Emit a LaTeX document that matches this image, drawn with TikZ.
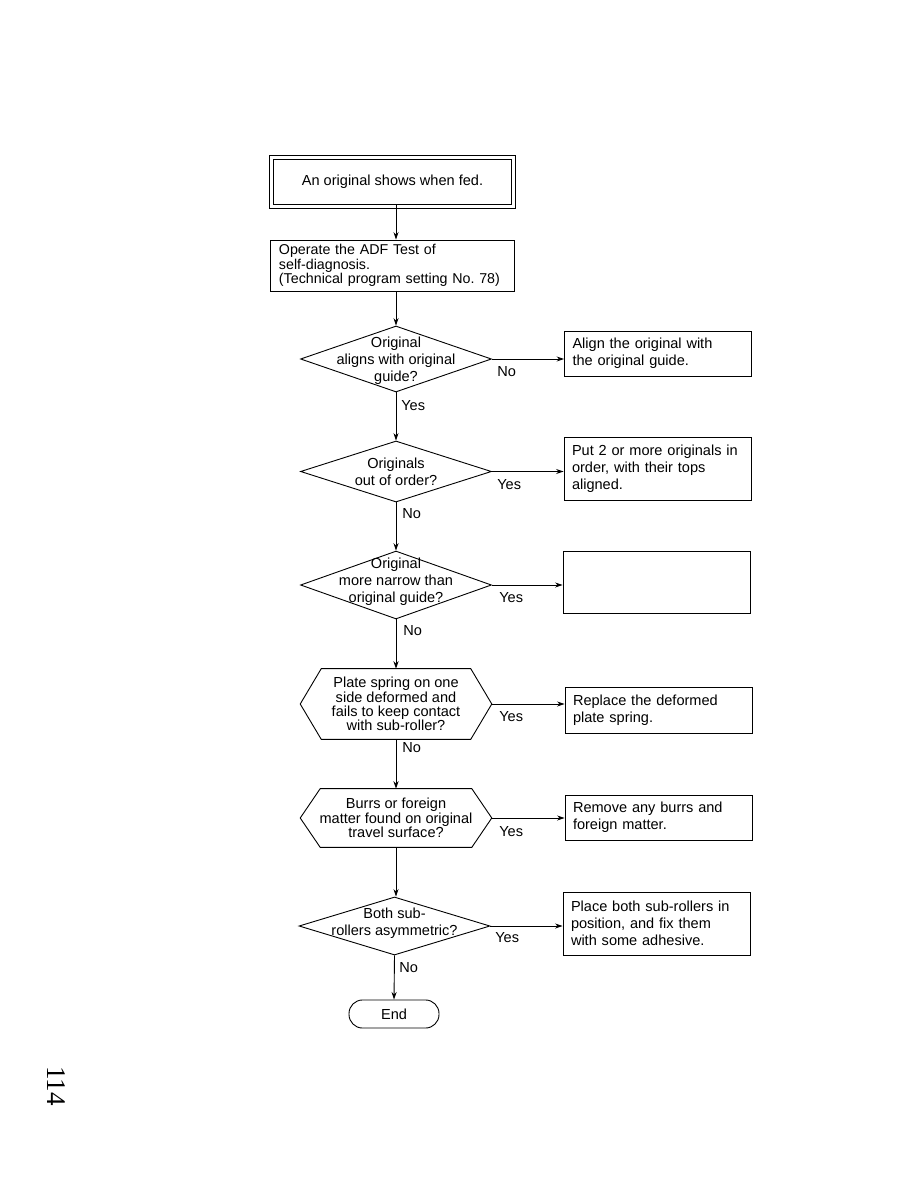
\documentclass[tikz,border=0pt]{standalone}
\usepackage{fontspec}
\setmainfont{Liberation Sans}
\newfontfamily\pagefont{Liberation Serif}
\usetikzlibrary{arrows.meta,positioning,shapes.geometric}
\frenchspacing
\tikzset{
	dbox/.style={draw=black, line width=0.6pt,
		minimum width=159pt, minimum height=30.5pt, inner sep=0pt,
		font=\fontsize{9.7}{11.2}\selectfont},
	dframe/.style={draw=black, line width=0.6pt},
	pbox/.style={draw=black, line width=0.6pt, minimum width=162.7pt,
		minimum height=34pt, inner xsep=6pt, inner ysep=0pt,
		text width=150.7pt, align=left, font=\fontsize{9.5}{9.6}\selectfont},
	abox/.style={draw=black, line width=0.6pt, minimum width=124.7pt,
		inner xsep=5.3pt, inner ysep=0pt, text width=114pt, align=left,
		font=\fontsize{9.7}{11.2}\selectfont},
	dia/.style={draw=black, line width=0.6pt, diamond, minimum width=127.3pt,
		inner sep=0pt},
	dtext/.style={align=center, inner sep=0pt,
		font=\fontsize{9.7}{11.2}\selectfont},
	hexbox/.style={minimum width=127.3pt, inner sep=0pt, align=center,
		font=\fontsize{9.7}{9.6}\selectfont},
	hexline/.style={draw=black, line width=0.6pt},
	endbox/.style={draw=black, line width=0.6pt, rounded corners=9pt,
		minimum width=60pt, minimum height=18.7pt, inner sep=0pt,
		font=\fontsize{9.7}{11.2}\selectfont},
	lbl/.style={anchor=west, inner sep=0pt, font=\fontsize{9.7}{11.2}\selectfont},
	marr/.style={-{Stealth[length=5pt,width=3.4pt]}, line width=0.6pt},
}
\begin{document}
\begin{tikzpicture}[x=0.6667pt, y=-0.6667pt]
	\useasboundingbox (0,0) rectangle (918,1188);
	% main column
	\node[dbox] (start) at (392.5,182) {An original shows when fed.};
	\draw[dframe] ([shift={(-2pt,2pt)}]start.north west) rectangle ([shift={(2pt,-2pt)}]start.south east);
	\node[pbox] (adf) at (392,265.5) {Operate the ADF Test of\\self-diagnosis.\\(Technical program setting No. 78)};
	\node[dia, minimum height=44pt] (guide) at (396,359) {};
	\node[dtext] (guidet) at (396,361) {Original\\aligns with original\\guide?};
	\node[dia, minimum height=40.7pt] (order) at (396,471.5) {};
	\node[dtext] (ordert) at (396,471.5) {Originals\\out of order?};
	\node[dia, minimum height=45.3pt] (narrow) at (396,585) {};
	\node[dtext] (narrowt) at (396,582) {Original\\more narrow than\\original guide?};
	\node[hexbox, minimum height=46.7pt] (spring) at (396,704) {Plate spring on one\\side deformed and\\fails to keep contact\\with sub-roller?};
	\draw[hexline] ([xshift=14pt]spring.north west) -- ([xshift=-14pt]spring.north east) -- (spring.east)
		-- ([xshift=-14pt]spring.south east) -- ([xshift=14pt]spring.south west) -- (spring.west) -- cycle;
	\node[hexbox, minimum height=38.7pt] (burrs) at (396,818) {Burrs or foreign\\matter found on original\\travel surface?};
	\draw[hexline] ([xshift=13.3pt]burrs.north west) -- ([xshift=-13.3pt]burrs.north east) -- (burrs.east)
		-- ([xshift=-13.3pt]burrs.south east) -- ([xshift=13.3pt]burrs.south west) -- (burrs.west) -- cycle;
	\node[dia, minimum height=38.7pt] (rollers) at (394.5,926) {};
	\node[dtext] (rollerst) at (394.5,923) {Both sub-\\rollers asymmetric?};
	\node[endbox] (finish) at (394,1014) {End};
	% remedies
	\node[abox, minimum height=30pt] (align) at (658,353.5) {Align the original with\\the original guide.};
	\node[abox, minimum height=42pt] (sort) at (657.5,468.5) {Put 2 or more originals in\\order, with their tops\\aligned.};
	\node[abox, minimum height=41.3pt] (blank) at (656.5,582) {};
	\node[abox, minimum height=30.7pt] (replace) at (658.5,710) {Replace the deformed\\plate spring.};
	\node[abox, minimum height=30pt] (remove) at (658.5,817.5) {Remove any burrs and\\foreign matter.};
	\node[abox, minimum height=42pt] (fix) at (656.5,923.5) {Place both sub-rollers in\\position, and fix them\\with some adhesive.};
	% connectors
	\draw[marr] (start.south -| guide) -- (adf.north -| guide);
	\draw[marr] (adf.south -| guide) -- (guide.north);
	\draw[marr] (guide.east) -- (guide.east -| align.west);
	\draw[marr] (guide.south) -- (order.north);
	\draw[marr] (order.east) -- (order.east -| sort.west);
	\draw[marr] (order.south) -- (narrow.north);
	\draw[marr] (narrow.east) -- (narrow.east -| blank.west);
	\draw[marr] (narrow.south) -- (spring.north);
	\draw[marr] (spring.east) -- (spring.east -| replace.west);
	\draw[marr] (spring.south) -- (burrs.north);
	\draw[marr] (burrs.east) -- (burrs.east -| remove.west);
	\draw[marr] (burrs.south) -- (burrs.south |- rollers.north);
	\draw[marr] (rollers.east) -- (rollers.east -| fix.west);
	\draw[marr] (rollers.south) -- (finish.north);
	% branch labels
	\node[lbl] (no1) at (497,372) {No};
	\node[lbl] (yes1) at (401,406) {Yes};
	\node[lbl] (yes2) at (497,485) {Yes};
	\node[lbl] (no2) at (402,514) {No};
	\node[lbl] (yes3) at (499,598) {Yes};
	\node[lbl] (no3) at (403,631) {No};
	\node[lbl] (yes4) at (499,717) {Yes};
	\node[lbl] (no4) at (402,748) {No};
	\node[lbl] (yes5) at (499,832) {Yes};
	\node[lbl] (yes6) at (495,938) {Yes};
	\node[lbl] (no6) at (399,968) {No};
	% page number
	\node[rotate=-90, font=\pagefont\fontsize{18}{18}\selectfont] (page) at (56,1086) {114};
\end{tikzpicture}
\end{document}
